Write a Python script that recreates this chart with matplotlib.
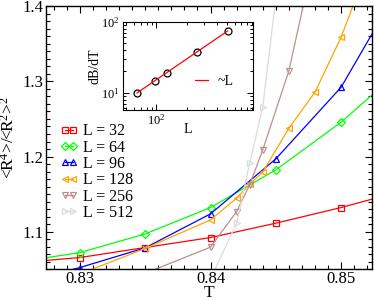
import numpy as np
import matplotlib
matplotlib.use("Agg")
import matplotlib.pyplot as plt
from matplotlib.ticker import MultipleLocator

plt.rcParams['font.family'] = 'Liberation Serif'
plt.rcParams['mathtext.fontset'] = 'custom'
plt.rcParams['mathtext.rm'] = 'Liberation Serif'
plt.rcParams['mathtext.it'] = 'Liberation Serif:italic'

# Binder-like ratio vs temperature, one curve per system size
T_32 = [0.825, 0.83, 0.835, 0.84, 0.845, 0.85, 0.855]
B_32 = [1.0584, 1.0659, 1.0792, 1.0924, 1.1115, 1.1323, 1.1558]

T_64 = [0.825, 0.83, 0.835, 0.84, 0.845, 0.85, 0.855]
B_64 = [1.0591, 1.0725, 1.0973, 1.1323, 1.1823, 1.2456, 1.322]

T_96 = [0.825, 0.83, 0.835, 0.84, 0.845, 0.85, 0.855]
B_96 = [1.030, 1.0526, 1.0788, 1.1239, 1.1969, 1.2920, 1.4416]

T_128 = [0.83, 0.835, 0.84, 0.842, 0.843, 0.844, 0.846, 0.848, 0.85, 0.852]
B_128 = [1.044, 1.078, 1.1159, 1.1447, 1.1633, 1.1793, 1.2377, 1.2855, 1.3585, 1.45]

T_256 = [0.835, 0.84, 0.842, 0.843, 0.844, 0.846, 0.848]
B_256 = [1.045, 1.0797, 1.127, 1.1624, 1.2089, 1.3137, 1.471]

T_512 = [0.84, 0.842, 0.843, 0.844, 0.845]
B_512 = [1.0375, 1.1115, 1.1912, 1.2655, 1.41]

# inset: slope dB/dT at the crossing vs L
L_ins = [64, 96, 128, 256, 512]
dBdT = [10.0, 14.75, 19.1, 37.8, 74.6]

series = [
    (T_32, B_32, 'L = 32', '#ff0000', 's'),
    (T_64, B_64, 'L = 64', '#00ff00', 'D'),
    (T_96, B_96, 'L = 96', '#0000ff', '^'),
    (T_128, B_128, 'L = 128', '#ffa500', '<'),
    (T_256, B_256, 'L = 256', '#bc8f8f', 'v'),
    (T_512, B_512, 'L = 512', '#dcdcdc', '>'),
]

fig = plt.figure(figsize=(3.74, 3.0), dpi=100)
ax = fig.add_axes([0.123, 0.1017, 0.8717, 0.8783])

for t, b, lab, col, mk in series:
    ms = 4.2 if mk == 'D' else 5
    ax.plot(t, b, color=col, lw=0.9, marker=mk, ms=ms, mfc='none',
            mec=col, mew=0.9, label=lab)

ax.set_xlim(0.8274, 0.85237)
ax.set_ylim(1.05, 1.4)
ax.xaxis.set_major_locator(MultipleLocator(0.01))
ax.xaxis.set_minor_locator(MultipleLocator(0.001))
ax.yaxis.set_major_locator(MultipleLocator(0.1))
ax.yaxis.set_minor_locator(MultipleLocator(0.01))
ax.tick_params(which='both', direction='in', top=True, right=True,
               labelsize=12, width=0.8)
ax.tick_params(axis='x', pad=1)
ax.tick_params(axis='y', pad=2)
ax.tick_params(which='major', length=5)
ax.tick_params(which='minor', length=2.8)
for s in ax.spines.values():
    s.set_linewidth(1.0)
ax.set_xlabel('T', fontsize=12.5, labelpad=-1)
ax.set_ylabel('<R$^{4}$>/<R$^{2}$>$^{2}$', fontsize=12.5, labelpad=3)

ax.legend(loc='upper left', bbox_to_anchor=(0.045, 0.555), frameon=False,
          fontsize=11.5, numpoints=2, handlelength=1.1, handletextpad=0.3,
          labelspacing=0.02, borderpad=0, borderaxespad=0)

# inset
axi = fig.add_axes([0.328, 0.6333, 0.3476, 0.2943])
axi.loglog(L_ins, dBdT, 'o', ms=5, mfc='none', mec='black', mew=0.9)
p = np.polyfit(np.log10(L_ins), np.log10(dBdT), 1)
Lfit = np.array([L_ins[0], L_ins[-1]])
axi.loglog(Lfit, 10 ** np.polyval(p, np.log10(Lfit)), color='red', lw=0.9,
           label='~L')
axi.set_xlim(46, 910)
axi.set_ylim(5.7, 100)
axi.tick_params(which='both', direction='in', top=True, right=True,
                labelsize=9, width=0.7, pad=2)
axi.tick_params(which='major', length=4)
axi.tick_params(which='minor', length=2.2)
axi.set_xlabel('L', fontsize=10, labelpad=-3)
axi.set_ylabel('dB/dT', fontsize=10, labelpad=0)
axi.legend(loc='center left', bbox_to_anchor=(0.56, 0.32), frameon=False,
           fontsize=10, handlelength=0.9, handletextpad=0.7,
           borderpad=0, borderaxespad=0)

fig.savefig('out.png', dpi=100)
